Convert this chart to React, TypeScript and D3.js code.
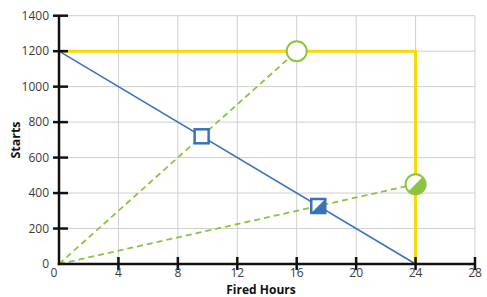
import React, { useEffect, useRef } from "react";
import * as d3 from "d3";

interface Pt {
  h: number;
  s: number;
}

const xTicks = [0, 4, 8, 12, 16, 20, 24, 28];
const yTicks = [0, 200, 400, 600, 800, 1000, 1200, 1400];

const capacityLine: Pt[] = [
  { h: 0, s: 1200 },
  { h: 24, s: 1200 },
  { h: 24, s: 0 },
];
const blueLine: Pt[] = [
  { h: 0, s: 1200 },
  { h: 24, s: 0 },
];
const greenLines: Pt[][] = [
  [
    { h: 0, s: 0 },
    { h: 16, s: 1200 },
  ],
  [
    { h: 0, s: 0 },
    { h: 24, s: 450 },
  ],
];
const squares = [
  { h: 9.6, s: 720, half: false },
  { h: 17.45, s: 327, half: true },
];
const circles = [
  { h: 16, s: 1200, half: false },
  { h: 24, s: 450, half: true },
];

const BLUE = "#3a72b8";
const GREEN = "#8cc43f";
const YELLOW = "#fbd900";

const App: React.FC = () => {
  const svgRef = useRef<SVGSVGElement | null>(null);

  useEffect(() => {
    if (!svgRef.current) return;
    const svg = d3.select(svgRef.current);
    svg.selectAll("*").remove();

    const width = 487;
    const height = 297;
    svg.attr("width", width).attr("height", height);

    const x = d3.scaleLinear().domain([0, 28]).range([59, 475]);
    const y = d3.scaleLinear().domain([0, 1400]).range([264, 15.7]);

    const font = "'Open Sans', Lato, sans-serif";

    // grid
    const grid = svg.append("g").attr("stroke", "#cfcfcf").attr("stroke-width", 1);
    grid
      .selectAll("line.v")
      .data(xTicks.filter((d) => d > 0))
      .enter()
      .append("line")
      .attr("x1", (d) => x(d))
      .attr("x2", (d) => x(d))
      .attr("y1", y(1400))
      .attr("y2", y(0));
    grid
      .selectAll("line.h")
      .data(yTicks.filter((d) => d > 0))
      .enter()
      .append("line")
      .attr("x1", x(0))
      .attr("x2", x(28))
      .attr("y1", (d) => y(d))
      .attr("y2", (d) => y(d));

    const line = d3
      .line<Pt>()
      .x((d) => x(d.h))
      .y((d) => y(d.s));

    svg
      .append("path")
      .datum(capacityLine)
      .attr("fill", "none")
      .attr("stroke", YELLOW)
      .attr("stroke-width", 3)
      .attr("d", line);

    svg
      .append("path")
      .datum(blueLine)
      .attr("fill", "none")
      .attr("stroke", BLUE)
      .attr("stroke-width", 1.5)
      .attr("d", line);

    svg
      .selectAll("path.green")
      .data(greenLines)
      .enter()
      .append("path")
      .attr("fill", "none")
      .attr("stroke", GREEN)
      .attr("stroke-width", 1.8)
      .attr("stroke-dasharray", "6,4")
      .attr("d", (d) => line(d));

    // axes
    const axes = svg.append("g").attr("stroke", "#111").attr("stroke-width", 2.5);
    axes
      .append("line")
      .attr("x1", x(0))
      .attr("x2", x(0))
      .attr("y1", y(1400))
      .attr("y2", y(0) + 1.2);
    axes
      .append("line")
      .attr("x1", x(0) - 1.2)
      .attr("x2", x(28))
      .attr("y1", y(0))
      .attr("y2", y(0));
    axes
      .selectAll("line.yt")
      .data(yTicks.filter((d) => d > 0))
      .enter()
      .append("line")
      .attr("x1", x(0) - 6)
      .attr("x2", x(0) + 9)
      .attr("y1", (d) => y(d))
      .attr("y2", (d) => y(d));
    axes
      .selectAll("line.xt")
      .data(xTicks.filter((d) => d > 0))
      .enter()
      .append("line")
      .attr("x1", (d) => x(d))
      .attr("x2", (d) => x(d))
      .attr("y1", y(0) - 7)
      .attr("y2", y(0) + 6);

    svg
      .selectAll("text.yl")
      .data(yTicks)
      .enter()
      .append("text")
      .attr("x", x(0) - 10)
      .attr("y", (d) => y(d))
      .attr("dy", "0.35em")
      .attr("text-anchor", "end")
      .attr("font-family", font)
      .attr("font-size", 12)
      .attr("fill", "#3a3a3a")
      .text((d) => d);

    svg
      .selectAll("text.xl")
      .data(xTicks)
      .enter()
      .append("text")
      .attr("x", (d) => (d === 0 ? x(d) - 5 : x(d)))
      .attr("y", 277)
      .attr("text-anchor", "middle")
      .attr("font-family", font)
      .attr("font-size", 12)
      .attr("fill", "#3a3a3a")
      .text((d) => d);

    svg
      .append("text")
      .attr("x", 261)
      .attr("y", 293.5)
      .attr("text-anchor", "middle")
      .attr("font-family", font)
      .attr("font-weight", "bold")
      .attr("font-size", 12)
      .attr("fill", "#111")
      .text("Fired Hours");

    svg
      .append("text")
      .attr("transform", "translate(20,140) rotate(-90)")
      .attr("text-anchor", "middle")
      .attr("font-family", font)
      .attr("font-weight", "bold")
      .attr("font-size", 12.5)
      .attr("fill", "#111")
      .text("Starts");

    // square markers
    const sz = 14;
    squares.forEach((d) => {
      const cx = x(d.h);
      const cy = y(d.s);
      const g = svg.append("g");
      g.append("rect")
        .attr("x", cx - sz / 2)
        .attr("y", cy - sz / 2)
        .attr("width", sz)
        .attr("height", sz)
        .attr("fill", "#fff");
      if (d.half) {
        g.append("path")
          .attr(
            "d",
            `M${cx - sz / 2},${cy + sz / 2}L${cx + sz / 2},${cy - sz / 2}L${cx + sz / 2},${cy + sz / 2}Z`
          )
          .attr("fill", BLUE);
      }
      g.append("rect")
        .attr("x", cx - sz / 2)
        .attr("y", cy - sz / 2)
        .attr("width", sz)
        .attr("height", sz)
        .attr("fill", "none")
        .attr("stroke", BLUE)
        .attr("stroke-width", 2.5);
    });

    // circle markers
    const r = 10;
    circles.forEach((d) => {
      const cx = x(d.h);
      const cy = y(d.s);
      const g = svg.append("g");
      g.append("circle").attr("cx", cx).attr("cy", cy).attr("r", r).attr("fill", "#fff");
      if (d.half) {
        const k = r * Math.SQRT1_2;
        g.append("path")
          .attr("d", `M${cx + k},${cy - k}A${r},${r} 0 0 1 ${cx - k},${cy + k}Z`)
          .attr("fill", GREEN);
      }
      g.append("circle")
        .attr("cx", cx)
        .attr("cy", cy)
        .attr("r", r)
        .attr("fill", "none")
        .attr("stroke", GREEN)
        .attr("stroke-width", 2);
    });
  }, []);

  return (
    <svg
      ref={svgRef}
      style={{ position: "absolute", left: 0, top: 0, background: "#fff" }}
    ></svg>
  );
};

export default App;
